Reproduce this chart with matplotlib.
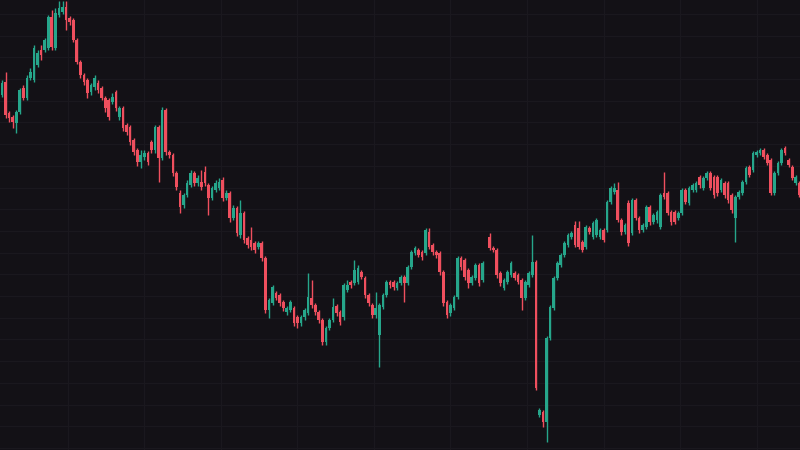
import numpy as np
from matplotlib import pyplot as plt

# velas (precio en unidades arbitrarias)
opens = [355, 368, 337, 333, 327, 338, 362, 352, 372, 370, 385, 400, 400, 402,
         433, 402, 435, 438, 443, 432, 430, 410, 388, 375, 370, 358, 363, 367,
         362, 352, 350, 348, 358, 333, 342, 325, 323, 310, 300, 288, 293, 297,
         308, 300, 323, 292, 340, 298, 295, 277, 257, 245, 255, 265, 277, 267,
         268, 278, 265, 252, 260, 262, 270, 252, 257, 232, 242, 215, 237, 212,
         210, 207, 203, 207, 192, 140, 147, 157, 155, 148, 138, 140, 142, 133,
         127, 133, 137, 152, 145, 138, 130, 108, 122, 130, 144, 138, 133, 160,
         168, 167, 168, 178, 172, 155, 145, 135, 115, 143, 155, 168, 168, 162,
         167, 173, 167, 183, 197, 200, 198, 197, 218, 205, 198, 197, 178, 148,
         137, 142, 153, 192, 190, 180, 167, 172, 185, 170, np.nan, 213, 202, 200,
         177, 162, 168, 175, 177, 175, 170, 152, 165, 175, 188, 35, 38, 28,
         112, 142, 172, 185, 195, 205, 213, 225, 222, 208, 203, 222, 213, 215,
         213, 220, 220, 248, 258, 260, 230, 218, 247, 217, 250, 232, 220, 223,
         243, 228, 230, 223, 257, 257, 238, 238, 232, 237, 260, 247, 260, 260,
         273, 262, 272, 277, 273, 273, 260, 267, 267, 255, 232, 253, 257, 268,
         283, 280, 295, 297, 300, 295, 290, 257, 277, 287, 302, 290, 283, 267,
         267]
closes = [367, 335, 332, 328, 338, 360, 352, 372, 378, 402, 397, 395, 410, 433,
          403, 437, 442, 443, 430, 428, 410, 388, 375, 368, 357, 365, 372, 360,
          352, 342, 333, 353, 342, 342, 322, 318, 308, 298, 288, 295, 297, 288,
          300, 323, 292, 340, 298, 295, 277, 263, 243, 255, 267, 277, 267, 272,
          263, 267, 252, 262, 267, 268, 252, 257, 232, 242, 217, 237, 210, 205,
          203, 200, 207, 192, 140, 150, 163, 152, 147, 142, 142, 148, 127, 127,
          133, 140, 153, 145, 138, 130, 108, 122, 130, 143, 137, 128, 165, 165,
          165, 180, 182, 173, 155, 147, 135, 142, 145, 155, 168, 165, 163, 167,
          173, 167, 183, 198, 202, 195, 193, 220, 203, 198, 195, 178, 147, 135,
          145, 153, 192, 183, 173, 167, 173, 185, 167, 187, np.nan, 202, 200, 175,
          167, 170, 178, 187, 172, 168, 152, 168, 177, 188, 62, 40, 28, 112,
          143, 172, 187, 195, 207, 215, 217, 205, 203, 200, 223, 218, 227, 230,
          220, 210, 248, 262, 262, 230, 218, 225, 207, 250, 232, 220, 225, 243,
          228, 235, 238, 255, 253, 237, 228, 228, 237, 260, 248, 262, 265, 267,
          265, 272, 277, 262, 255, 257, 270, 255, 250, 240, 253, 258, 268, 282,
          275, 297, 298, 300, 293, 287, 257, 277, 287, 300, 297, 285, 272, 273,
          255]
highs = [370, 378, 339, 335, 340, 362, 365, 375, 382, 405, 400, 405, 412, 435,
         440, 442, 449, 449, 449, 434, 432, 412, 390, 377, 372, 367, 375, 370,
         364, 354, 352, 357, 360, 344, 344, 327, 325, 312, 302, 300, 300, 299,
         310, 325, 325, 343, 342, 300, 297, 279, 260, 257, 270, 280, 279, 275,
         280, 284, 267, 264, 270, 272, 273, 260, 259, 245, 244, 250, 239, 214,
         223, 209, 209, 209, 194, 152, 165, 159, 157, 150, 144, 150, 144, 135,
         135, 142, 177, 170, 147, 140, 132, 124, 132, 152, 146, 140, 167, 170,
         170, 190, 185, 180, 174, 157, 147, 158, 147, 157, 170, 170, 170, 169,
         175, 175, 185, 200, 204, 202, 200, 222, 222, 207, 200, 199, 180, 150,
         147, 155, 194, 194, 192, 182, 175, 187, 187, 189, np.nan, 217, 204, 202,
         179, 172, 180, 189, 179, 177, 172, 170, 179, 215, 190, 42, 40, 114,
         145, 174, 189, 197, 209, 217, 219, 229, 229, 210, 225, 224, 229, 232,
         222, 222, 250, 264, 267, 268, 232, 227, 250, 252, 252, 234, 227, 245,
         245, 237, 240, 257, 278, 259, 240, 240, 239, 262, 262, 264, 267, 269,
         275, 274, 279, 279, 275, 275, 272, 269, 269, 257, 255, 260, 270, 284,
         285, 299, 300, 302, 302, 297, 292, 279, 289, 302, 304, 292, 285, 275,
         269]
lows = [353, 332, 328, 322, 317, 336, 350, 350, 370, 368, 383, 390, 398, 400,
        400, 400, 433, 436, 420, 425, 408, 386, 372, 365, 352, 355, 360, 357,
        350, 338, 330, 346, 339, 330, 319, 315, 305, 295, 284, 282, 290, 285,
        297, 297, 268, 290, 295, 292, 274, 260, 237, 242, 253, 263, 264, 264,
        260, 264, 235, 250, 258, 260, 249, 250, 228, 230, 214, 212, 207, 202,
        200, 197, 201, 189, 137, 132, 145, 150, 144, 139, 135, 138, 124, 122,
        124, 130, 135, 142, 135, 127, 105, 105, 120, 128, 134, 125, 130, 158,
        162, 165, 166, 171, 152, 144, 132, 132, 83, 141, 153, 162, 160, 160,
        165, 148, 165, 181, 195, 193, 190, 195, 201, 195, 192, 175, 144, 132,
        134, 140, 151, 180, 170, 162, 165, 170, 164, 168, np.nan, 200, 198, 172,
        164, 160, 166, 173, 170, 166, 140, 150, 163, 173, 60, 33, 23, 8,
        110, 140, 170, 183, 193, 203, 211, 203, 201, 198, 201, 216, 211, 213,
        211, 208, 218, 246, 256, 228, 215, 216, 204, 215, 230, 217, 218, 221,
        225, 226, 227, 221, 251, 235, 225, 226, 230, 235, 246, 245, 258, 258,
        262, 260, 270, 260, 252, 254, 258, 252, 247, 237, 208, 251, 255, 266,
        273, 278, 293, 295, 291, 285, 255, 255, 275, 285, 295, 283, 270, 265,
        253]

opens, closes = np.array(opens), np.array(closes)
highs, lows = np.array(highs), np.array(lows)
x = np.arange(len(closes))                       # una vela por posicion

fondo = '#131116'
verde, rojo = '#26a68b', '#ef4f5e'
colores = np.where(closes >= opens, verde, rojo)  # sube verde, baja rojo

fig = plt.figure(figsize=(8, 4.5), dpi=100, facecolor=fondo)
ax = fig.add_axes([0, 0, 1, 1], facecolor=fondo)

# rejilla tenue
ax.set_xticks(np.arange(18.5, 230, 21.5))
ax.set_yticks(np.arange(436, 0, -21.7))
ax.grid(True, color='#1a181e', linewidth=0.9)
ax.set_axisbelow(True)

ax.vlines(x, lows, highs, colors=colores, linewidth=1)                   # mechas
ax.bar(x, np.abs(closes - opens), bottom=np.minimum(opens, closes),      # cuerpos
       width=0.75, color=colores, linewidth=0)

ax.set_xlim(-0.56, 224.2)
ax.set_ylim(0, 450)
ax.tick_params(left=False, bottom=False, labelleft=False, labelbottom=False)
for s in ax.spines.values():
    s.set_visible(False)

fig.savefig('out.png', dpi=100, facecolor=fondo)
